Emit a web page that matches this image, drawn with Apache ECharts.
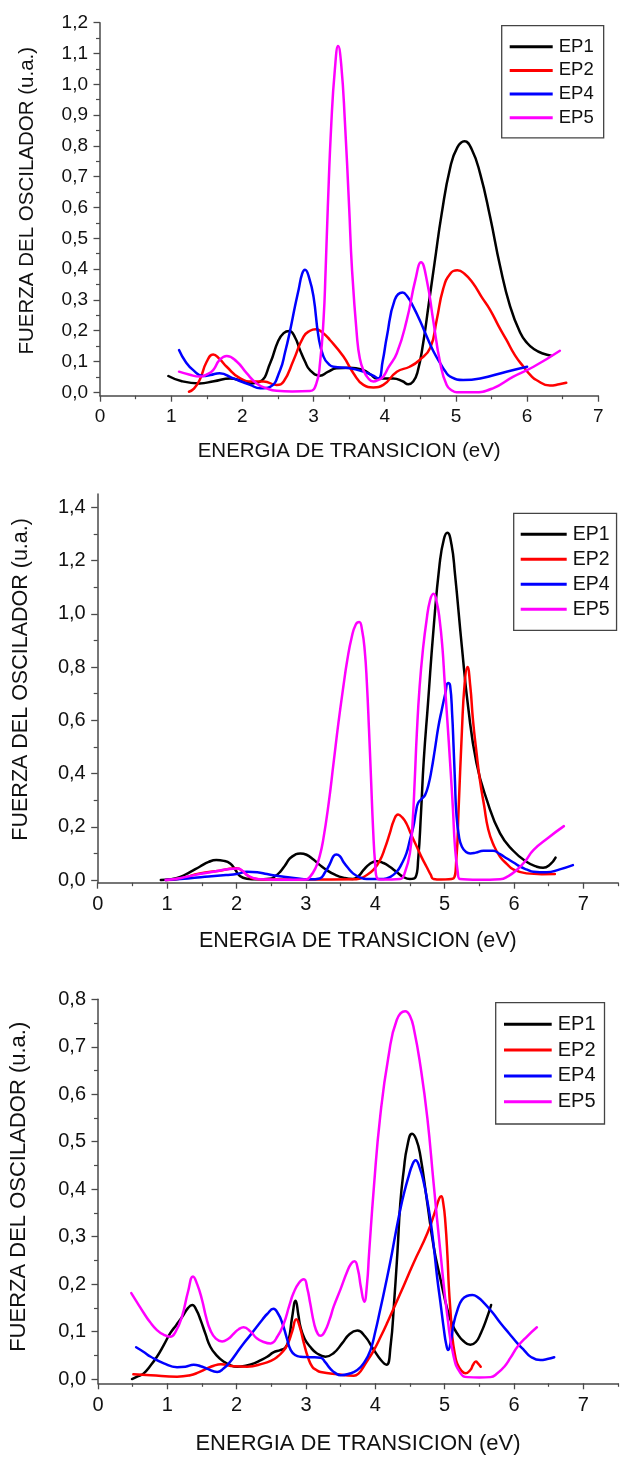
<!DOCTYPE html>
<html><head><meta charset="utf-8">
<script src="https://cdn.jsdelivr.net/npm/echarts@6/dist/echarts.min.js"></script>
<style>html,body{margin:0;padding:0;background:#fff}#c{width:621px;height:1469px}</style>
</head><body><div id="c"></div>
<script>
const seriesNames = ['EP1', 'EP2', 'EP4', 'EP5'];
const seriesColors = ['#000000', '#ff0000', '#0000ff', '#ff00ff'];
const xTitle = 'ENERGIA DE TRANSICION (eV)';
const yTitle = 'FUERZA DEL OSCILADOR (u.a.)';

// ---------- Panel 1 ----------
const c1_EP1 = [[0.96,0.053],[1.15,0.036],[1.4,0.029],[1.6,0.036],[1.83,0.045],[2.0,0.036],[2.11,0.029],[2.25,0.035],[2.39,0.094],[2.5,0.165],[2.58,0.192],[2.66,0.199],[2.74,0.178],[2.81,0.137],[2.88,0.1],[2.95,0.072],[3.09,0.054],[3.2,0.066],[3.32,0.078],[3.51,0.08],[3.7,0.072],[3.8,0.058],[3.89,0.045],[4.12,0.045],[4.25,0.036],[4.33,0.026],[4.4,0.035],[4.46,0.065],[4.54,0.16],[4.62,0.29],[4.7,0.42],[4.8,0.58],[4.92,0.73],[5.02,0.795],[5.12,0.815],[5.22,0.79],[5.34,0.71],[5.48,0.57],[5.62,0.41],[5.76,0.28],[5.9,0.195],[6.0,0.16],[6.1,0.14],[6.22,0.126],[6.34,0.119]];
const c1_EP2 = [[1.25,0.002],[1.32,0.012],[1.4,0.04],[1.5,0.1],[1.59,0.123],[1.68,0.108],[1.78,0.083],[1.97,0.045],[2.15,0.035],[2.3,0.035],[2.48,0.024],[2.58,0.035],[2.72,0.105],[2.86,0.181],[2.95,0.2],[3.03,0.205],[3.12,0.195],[3.23,0.17],[3.42,0.116],[3.56,0.062],[3.7,0.024],[3.84,0.016],[3.98,0.024],[4.17,0.067],[4.35,0.083],[4.49,0.105],[4.64,0.145],[4.73,0.235],[4.82,0.335],[4.92,0.385],[5.02,0.396],[5.12,0.385],[5.24,0.354],[5.36,0.31],[5.48,0.268],[5.6,0.215],[5.71,0.17],[5.83,0.12],[5.95,0.083],[6.05,0.055],[6.13,0.04],[6.32,0.022],[6.45,0.026],[6.55,0.031]];
const c1_EP4 = [[1.11,0.137],[1.2,0.1],[1.31,0.072],[1.45,0.053],[1.55,0.056],[1.68,0.062],[1.87,0.045],[2.11,0.024],[2.25,0.013],[2.39,0.018],[2.53,0.072],[2.6,0.13],[2.67,0.2],[2.74,0.28],[2.79,0.333],[2.84,0.385],[2.88,0.398],[2.94,0.37],[3.0,0.31],[3.07,0.18],[3.14,0.116],[3.22,0.09],[3.28,0.083],[3.51,0.078],[3.7,0.067],[3.83,0.055],[3.91,0.045],[3.97,0.1],[4.03,0.181],[4.14,0.3],[4.25,0.324],[4.32,0.31],[4.4,0.278],[4.5,0.23],[4.59,0.181],[4.68,0.135],[4.78,0.094],[4.85,0.068],[4.92,0.051],[5.1,0.04],[5.34,0.045],[5.71,0.067],[6.0,0.083]];
const c1_EP5 = [[1.11,0.067],[1.25,0.058],[1.4,0.051],[1.5,0.058],[1.59,0.072],[1.68,0.105],[1.78,0.118],[1.92,0.1],[2.06,0.062],[2.2,0.029],[2.34,0.013],[2.48,0.005],[2.7,0.003],[2.95,0.004],[3.04,0.029],[3.09,0.094],[3.14,0.235],[3.17,0.4],[3.2,0.6],[3.25,0.875],[3.3,1.05],[3.345,1.124],[3.39,1.06],[3.44,0.88],[3.5,0.6],[3.54,0.4],[3.61,0.181],[3.65,0.11],[3.7,0.072],[3.77,0.045],[3.84,0.035],[3.91,0.04],[3.98,0.051],[4.05,0.08],[4.17,0.127],[4.31,0.235],[4.43,0.365],[4.51,0.422],[4.59,0.365],[4.68,0.235],[4.78,0.094],[4.87,0.024],[4.95,0.005],[5.01,0.0],[5.24,0.0],[5.52,0.013],[5.8,0.05],[6.09,0.083],[6.46,0.135]];

// ---------- Panel 2 ----------
const c2_EP1 = [[0.91,0.0],[1.05,0.003],[1.19,0.012],[1.33,0.03],[1.47,0.05],[1.6,0.068],[1.71,0.075],[1.82,0.072],[1.91,0.062],[1.98,0.04],[2.05,0.015],[2.15,0.005],[2.3,0.003],[2.48,0.005],[2.56,0.015],[2.63,0.031],[2.7,0.055],[2.77,0.081],[2.85,0.096],[2.92,0.1],[3.01,0.095],[3.11,0.077],[3.2,0.057],[3.3,0.0375],[3.42,0.02],[3.54,0.009],[3.68,0.004],[3.76,0.015],[3.83,0.037],[3.92,0.06],[4.02,0.071],[4.12,0.064],[4.21,0.05],[4.3,0.032],[4.4,0.0125],[4.5,0.004],[4.58,0.01],[4.62,0.08],[4.66,0.25],[4.7,0.45],[4.76,0.66],[4.84,0.94],[4.93,1.19],[4.99,1.28],[5.04,1.304],[5.1,1.26],[5.15,1.15],[5.25,0.875],[5.34,0.65],[5.46,0.44],[5.61,0.30],[5.8,0.175],[5.99,0.11],[6.18,0.069],[6.33,0.05],[6.42,0.046],[6.52,0.058],[6.6,0.084]];
const c2_EP2 = [[0.98,0.0],[1.2,0.006],[1.47,0.025],[1.76,0.035],[1.9,0.042],[2.0,0.044],[2.1,0.031],[2.17,0.015],[2.24,0.006],[2.4,0.002],[3.0,0.002],[3.73,0.003],[3.88,0.019],[3.98,0.04],[4.07,0.075],[4.14,0.12],[4.21,0.175],[4.27,0.225],[4.33,0.246],[4.39,0.235],[4.45,0.2125],[4.52,0.17],[4.6,0.125],[4.67,0.085],[4.74,0.05],[4.8,0.02],[4.84,0.004],[4.95,0.002],[5.12,0.005],[5.17,0.08],[5.2,0.25],[5.25,0.56],[5.29,0.74],[5.33,0.80],[5.37,0.73],[5.41,0.6],[5.46,0.48],[5.51,0.375],[5.57,0.28],[5.63,0.19],[5.71,0.13],[5.8,0.0875],[5.9,0.06],[5.99,0.04],[6.18,0.025],[6.4,0.022],[6.59,0.0225]];
const c2_EP4 = [[0.98,0.0],[1.3,0.006],[1.6,0.013],[1.85,0.019],[2.0,0.0225],[2.15,0.031],[2.3,0.029],[2.44,0.0225],[2.6,0.015],[2.77,0.01],[3.06,0.0025],[3.2,0.006],[3.28,0.03],[3.35,0.0625],[3.4,0.09],[3.44,0.096],[3.49,0.09],[3.54,0.069],[3.61,0.045],[3.68,0.025],[3.78,0.01],[3.88,0.004],[4.12,0.004],[4.22,0.012],[4.31,0.031],[4.38,0.06],[4.45,0.1],[4.5,0.15],[4.55,0.2],[4.59,0.26],[4.62,0.29],[4.67,0.305],[4.72,0.32],[4.77,0.36],[4.81,0.41],[4.86,0.49],[4.91,0.575],[4.96,0.64],[5.01,0.7],[5.05,0.74],[5.08,0.73],[5.11,0.62],[5.13,0.5],[5.15,0.37],[5.17,0.25],[5.21,0.16],[5.25,0.125],[5.31,0.105],[5.37,0.1],[5.45,0.103],[5.56,0.11],[5.7,0.11],[5.8,0.097],[5.9,0.081],[6.0,0.065],[6.09,0.05],[6.19,0.039],[6.28,0.031],[6.47,0.029],[6.66,0.04],[6.85,0.056]];
const c2_EP5 = [[0.98,0.0],[1.2,0.008],[1.47,0.0225],[1.7,0.033],[1.95,0.0425],[2.02,0.043],[2.1,0.032],[2.15,0.019],[2.25,0.007],[2.34,0.0025],[2.6,0.001],[3.0,0.002],[3.06,0.012],[3.14,0.045],[3.2,0.09],[3.25,0.15],[3.33,0.29],[3.4,0.44],[3.47,0.59],[3.54,0.725],[3.6,0.83],[3.66,0.91],[3.72,0.96],[3.77,0.969],[3.81,0.94],[3.85,0.86],[3.88,0.74],[3.91,0.57],[3.94,0.38],[3.97,0.19],[4.0,0.06],[4.03,0.006],[4.1,0.002],[4.36,0.004],[4.43,0.03],[4.5,0.1],[4.54,0.22],[4.57,0.375],[4.6,0.55],[4.64,0.725],[4.69,0.87],[4.74,0.975],[4.79,1.05],[4.84,1.075],[4.89,1.04],[4.93,0.975],[4.97,0.87],[5.0,0.75],[5.04,0.6],[5.08,0.44],[5.12,0.27],[5.15,0.125],[5.19,0.03],[5.22,0.004],[5.5,0.001],[5.8,0.003],[5.92,0.015],[6.04,0.0375],[6.16,0.07],[6.28,0.1125],[6.5,0.16],[6.72,0.2025]];

// ---------- Panel 3 ----------
const c3_EP1 = [[0.49,0.0],[0.58,0.006],[0.66,0.012],[0.75,0.027],[0.85,0.047],[0.95,0.072],[1.04,0.096],[1.13,0.114],[1.21,0.13],[1.3,0.15],[1.36,0.156],[1.42,0.145],[1.48,0.124],[1.55,0.095],[1.62,0.068],[1.71,0.05],[1.81,0.037],[1.91,0.029],[2.01,0.026],[2.13,0.028],[2.25,0.033],[2.35,0.04],[2.44,0.047],[2.53,0.056],[2.63,0.061],[2.7,0.066],[2.75,0.082],[2.8,0.13],[2.85,0.165],[2.89,0.135],[2.92,0.11],[2.98,0.085],[3.06,0.068],[3.15,0.055],[3.28,0.047],[3.4,0.055],[3.52,0.075],[3.63,0.095],[3.74,0.102],[3.85,0.09],[3.98,0.061],[4.08,0.04],[4.16,0.03],[4.22,0.07],[4.27,0.16],[4.32,0.27],[4.36,0.37],[4.41,0.44],[4.46,0.49],[4.53,0.517],[4.59,0.505],[4.65,0.47],[4.75,0.37],[4.84,0.28],[4.94,0.21],[5.04,0.146],[5.11,0.115],[5.18,0.096],[5.27,0.08],[5.37,0.072],[5.45,0.078],[5.52,0.096],[5.6,0.125],[5.67,0.156]];
const c3_EP2 = [[0.51,0.01],[0.76,0.008],[1.14,0.005],[1.33,0.008],[1.45,0.014],[1.57,0.022],[1.67,0.028],[1.77,0.031],[1.96,0.027],[2.15,0.026],[2.39,0.033],[2.5,0.039],[2.58,0.046],[2.66,0.057],[2.73,0.072],[2.8,0.1],[2.86,0.126],[2.91,0.11],[2.97,0.075],[3.03,0.045],[3.09,0.026],[3.15,0.019],[3.21,0.015],[3.45,0.01],[3.69,0.007],[3.76,0.012],[3.83,0.026],[3.9,0.042],[3.98,0.061],[4.08,0.09],[4.17,0.118],[4.36,0.18],[4.55,0.244],[4.75,0.307],[4.87,0.357],[4.92,0.38],[4.95,0.385],[4.98,0.37],[5.01,0.33],[5.04,0.26],[5.06,0.195],[5.09,0.13],[5.11,0.089],[5.15,0.05],[5.18,0.033],[5.24,0.018],[5.3,0.012],[5.37,0.019],[5.41,0.03],[5.45,0.037],[5.48,0.033],[5.52,0.026]];
const c3_EP4 = [[0.55,0.067],[0.66,0.057],[0.76,0.047],[0.95,0.033],[1.14,0.025],[1.26,0.026],[1.38,0.03],[1.48,0.027],[1.57,0.022],[1.72,0.015],[1.81,0.022],[1.91,0.037],[2.0,0.055],[2.1,0.075],[2.2,0.093],[2.29,0.11],[2.37,0.125],[2.44,0.137],[2.53,0.148],[2.6,0.137],[2.66,0.117],[2.72,0.088],[2.78,0.061],[2.85,0.05],[2.92,0.047],[3.06,0.046],[3.21,0.045],[3.28,0.035],[3.35,0.022],[3.42,0.013],[3.5,0.008],[3.62,0.011],[3.74,0.019],[3.84,0.035],[3.93,0.061],[4.0,0.1],[4.07,0.146],[4.15,0.2],[4.22,0.25],[4.29,0.305],[4.36,0.357],[4.42,0.395],[4.48,0.427],[4.53,0.45],[4.58,0.461],[4.64,0.445],[4.7,0.413],[4.75,0.375],[4.8,0.33],[4.85,0.27],[4.89,0.216],[4.94,0.16],[4.99,0.103],[5.02,0.075],[5.05,0.061],[5.09,0.08],[5.13,0.117],[5.19,0.148],[5.25,0.167],[5.32,0.175],[5.4,0.177],[5.48,0.172],[5.57,0.16],[5.69,0.14],[5.81,0.117],[5.93,0.096],[6.05,0.075],[6.15,0.06],[6.24,0.047],[6.38,0.04],[6.48,0.042],[6.58,0.046]];
const c3_EP5 = [[0.48,0.181],[0.57,0.16],[0.66,0.139],[0.75,0.12],[0.85,0.103],[0.95,0.093],[1.04,0.089],[1.12,0.1],[1.21,0.131],[1.3,0.185],[1.37,0.216],[1.43,0.2],[1.5,0.167],[1.56,0.13],[1.62,0.103],[1.7,0.085],[1.79,0.079],[1.88,0.085],[1.96,0.096],[2.03,0.105],[2.1,0.109],[2.2,0.1],[2.29,0.086],[2.39,0.078],[2.49,0.075],[2.59,0.09],[2.68,0.117],[2.76,0.155],[2.82,0.181],[2.9,0.203],[2.97,0.21],[3.02,0.19],[3.06,0.16],[3.12,0.115],[3.17,0.095],[3.21,0.091],[3.27,0.1],[3.34,0.125],[3.4,0.153],[3.5,0.19],[3.59,0.225],[3.65,0.243],[3.7,0.248],[3.75,0.23],[3.79,0.195],[3.84,0.163],[3.88,0.2],[3.91,0.265],[3.98,0.406],[4.07,0.553],[4.19,0.68],[4.31,0.757],[4.43,0.775],[4.5,0.765],[4.56,0.735],[4.65,0.66],[4.75,0.55],[4.84,0.413],[4.94,0.265],[5.04,0.131],[5.13,0.047],[5.23,0.012],[5.33,0.004],[5.5,0.003],[5.66,0.004],[5.76,0.012],[5.86,0.026],[5.95,0.045],[6.05,0.068],[6.19,0.09],[6.33,0.109]];

// ---------- Ticks ----------
const xTicks = [0, 1, 2, 3, 4, 5, 6, 7];
const xMinor1 = [0.5, 1.5, 2.5, 3.5, 4.5, 5.5, 6.5];
const xMinor23 = [0.5, 1.5, 2.5, 3.5, 4.5, 5.5, 6.5, 7.5];
const yTicks1 = [0, 0.1, 0.2, 0.3, 0.4, 0.5, 0.6, 0.7, 0.8, 0.9, 1.0, 1.1, 1.2];
const yMinor1 = [0.05, 0.15, 0.25, 0.35, 0.45, 0.55, 0.65, 0.75, 0.85, 0.95, 1.05, 1.15];
const yTicks2 = [0, 0.2, 0.4, 0.6, 0.8, 1.0, 1.2, 1.4];
const yMinor2 = [0.1, 0.3, 0.5, 0.7, 0.9, 1.1, 1.3];
const yTicks3 = [0, 0.1, 0.2, 0.3, 0.4, 0.5, 0.6, 0.7, 0.8];
const yMinor3 = [0.05, 0.15, 0.25, 0.35, 0.45, 0.55, 0.65, 0.75];

const panelData = [
  { series: [c1_EP1, c1_EP2, c1_EP4, c1_EP5], xTicks: xTicks, xMinor: xMinor1, yTicks: yTicks1, yMinor: yMinor1 },
  { series: [c2_EP1, c2_EP2, c2_EP4, c2_EP5], xTicks: xTicks, xMinor: xMinor23, yTicks: yTicks2, yMinor: yMinor2 },
  { series: [c3_EP1, c3_EP2, c3_EP4, c3_EP5], xTicks: xTicks, xMinor: xMinor23, yTicks: yTicks3, yMinor: yMinor3 }
];

// layout / style per panel
const layout = [
  { grid: {left: 100, top: 22.7, width: 498.3, height: 373}, xMin: 0, xMax: 7, yMin: -0.011, yMax: 1.2,
    tickFont: 19, titleFont: 20.5, xGap: 45.5, yGap: 62, yShift: 17,
    legend: {left: 501.7, top: 25.7, padding: [11, 10, 10, 8], itemWidth: 43, font: 18.5, lineHeight: 20, itemGap: 3.7} },
  { grid: {left: 97.7, top: 494, width: 520.3, height: 388.7}, xMin: 0, xMax: 7.5, yMin: -0.01, yMax: 1.45,
    tickFont: 20, titleFont: 21.5, xGap: 47.5, yGap: 66, yShift: 18,
    legend: {left: 513.7, top: 513.3, padding: [10.5, 7, 10.5, 7], itemWidth: 46, font: 19.5, lineHeight: 21, itemGap: 4} },
  { grid: {left: 97.7, top: 999.3, width: 520.3, height: 384}, xMin: 0, xMax: 7.5, yMin: -0.009, yMax: 0.8,
    tickFont: 20, titleFont: 22, xGap: 49.5, yGap: 68, yShift: 9,
    legend: {left: 495.7, top: 1002.7, padding: [10.6, 9, 11.3, 8.3], itemWidth: 47.7, font: 20, lineHeight: 22, itemGap: 3.8} }
];

const FONT = '"Liberation Sans", Arial, sans-serif';
const AX = '#4a4a4a';
const TXT = '#111';

const option = { animation: false, backgroundColor: '#fff', grid: [], xAxis: [], yAxis: [], legend: [], series: [] };

panelData.forEach((p, i) => {
  const L = layout[i];
  option.grid.push(Object.assign({containLabel: false}, L.grid));
  option.xAxis.push({
    type: 'value', gridIndex: i, min: L.xMin, max: L.xMax, position: 'bottom',
    name: xTitle, nameLocation: 'middle', nameGap: L.xGap,
    nameTextStyle: {fontFamily: FONT, fontSize: L.titleFont, color: TXT},
    axisLine: {show: true, onZero: false, lineStyle: {color: AX, width: 1.5}},
    axisTick: {show: true, customValues: p.xTicks, length: 6, lineStyle: {color: AX, width: 1.3}},
    axisLabel: {customValues: p.xTicks, margin: 12, fontFamily: FONT, fontSize: L.tickFont, color: TXT,
      formatter: v => String(Math.round(v))},
    splitLine: {show: false}
  });
  option.xAxis.push({
    type: 'value', gridIndex: i, min: L.xMin, max: L.xMax, position: 'bottom',
    axisLine: {show: false, onZero: false},
    axisTick: {show: true, customValues: p.xMinor, length: 3.5, lineStyle: {color: AX, width: 1.2}},
    axisLabel: {show: false}, splitLine: {show: false}
  });
  option.yAxis.push({
    type: 'value', gridIndex: i, min: L.yMin, max: L.yMax, position: 'left',
    name: yTitle, nameLocation: 'middle', nameGap: L.yGap,
    nameTextStyle: {fontFamily: FONT, fontSize: L.titleFont, color: TXT, padding: [0, 0, 0, L.yShift]},
    axisLine: {show: true, onZero: false, lineStyle: {color: AX, width: 1.5}},
    axisTick: {show: true, customValues: p.yTicks, length: 6.5, lineStyle: {color: AX, width: 1.3}},
    axisLabel: {customValues: p.yTicks, margin: 12, fontFamily: FONT, fontSize: L.tickFont, color: TXT,
      formatter: v => v.toFixed(1).replace('.', ',')},
    splitLine: {show: false}
  });
  option.yAxis.push({
    type: 'value', gridIndex: i, min: L.yMin, max: L.yMax, position: 'left',
    axisLine: {show: false, onZero: false},
    axisTick: {show: true, customValues: p.yMinor, length: 4, lineStyle: {color: AX, width: 1.2}},
    axisLabel: {show: false}, splitLine: {show: false}
  });
  option.legend.push({
    orient: 'vertical', left: L.legend.left, top: L.legend.top, padding: L.legend.padding,
    itemWidth: L.legend.itemWidth, itemHeight: 3, itemGap: L.legend.itemGap, icon: 'rect',
    borderColor: '#444', borderWidth: 1.3, backgroundColor: '#fff', align: 'left',
    textStyle: {fontFamily: FONT, fontSize: L.legend.font, lineHeight: L.legend.lineHeight, color: TXT, padding: [0, 0, 0, 1]},
    data: seriesNames
  });
  p.series.forEach((d, k) => {
    option.series.push({
      type: 'line', name: seriesNames[k], xAxisIndex: 2 * i, yAxisIndex: 2 * i,
      data: d, smooth: 0.5, showSymbol: false, symbol: 'none',
      lineStyle: {color: seriesColors[k], width: 2.5, join: 'round', cap: 'round'}, itemStyle: {color: seriesColors[k]},
      z: 2 + k
    });
  });
});

const chart = echarts.init(document.getElementById('c'), null, {renderer: 'canvas'});
chart.setOption(option);
</script>
</body></html>
